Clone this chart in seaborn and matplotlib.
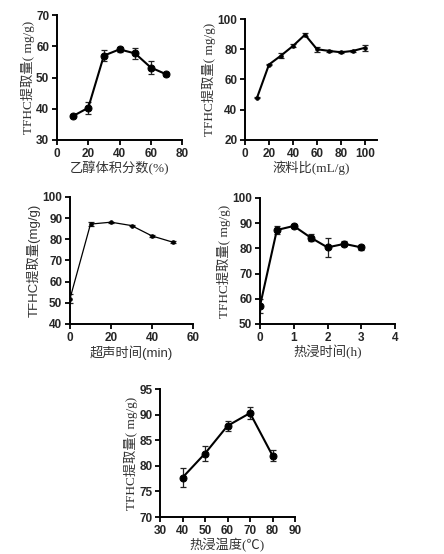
import matplotlib
matplotlib.use("Agg")
import matplotlib.pyplot as plt
import seaborn as sns
import pandas as pd

sns.set_theme(style="ticks")
plt.rcParams['font.family'] = ['Liberation Sans', 'Noto Sans CJK SC', 'DejaVu Sans']

# Panel 1: ethanol volume fraction
eth_x = [10, 20, 30, 40, 50, 60, 70]
eth_y = [37.6, 40.3, 57.0, 59.0, 57.7, 53.2, 51.0]
eth_e = [0.3, 1.9, 1.8, 0.8, 1.8, 2.0, 0.6]

# Panel 2: liquid-solid ratio
ratio_x = [10, 20, 30, 40, 50, 60, 70, 80, 90, 100]
ratio_y = [47.9, 69.9, 75.8, 82.2, 89.6, 80.0, 78.9, 78.0, 78.9, 81.0]
ratio_e = [0.4, 0.5, 1.5, 1.0, 1.0, 1.5, 0.7, 0.7, 0.8, 2.0]

# Panel 3: ultrasonic time
us_x = [0, 10, 20, 30, 40, 50]
us_y = [52.0, 87.2, 88.1, 86.5, 81.6, 78.7]
us_e = [2.0, 1.0, 0.3, 0.3, 0.3, 0.3]

# Panel 4: hot soak time
ht_x = [0, 0.5, 1, 1.5, 2, 2.5, 3]
ht_y = [57.2, 87.3, 88.9, 84.3, 80.4, 81.8, 80.4]
ht_e = [2.8, 1.5, 0.8, 1.5, 3.8, 1.0, 1.0]

# Panel 5: hot soak temperature
tp_x = [40, 50, 60, 70, 80]
tp_y = [77.7, 82.4, 87.8, 90.3, 82.0]
tp_e = [1.9, 1.5, 1.0, 1.2, 1.0]

W, H = 444, 554
fig = plt.figure(figsize=(W / 100, H / 100), dpi=100)

serif = ['Liberation Serif', 'Noto Sans CJK SC']
sans = ['Liberation Sans', 'Noto Sans CJK SC']
txt = '#333333'

def make_ax(x0, y0, x1, y1):
    return fig.add_axes([x0 / W, 1 - y1 / H, (x1 - x0) / W, (y1 - y0) / H])

def panel(ax, x, y, e, xlim, xt, ylim, yt, xlabel, ylabel, fam, ms=5, lw=1.5):
    df = pd.DataFrame({'x': x, 'y': y})
    ax.errorbar(x, y, yerr=e, fmt='none', ecolor='#222222', elinewidth=0.9,
                capsize=2.2, capthick=0.9, zorder=2)
    sns.lineplot(data=df, x='x', y='y', ax=ax, color='black', linewidth=lw,
                 marker='o', markersize=ms, markeredgecolor='black',
                 markerfacecolor='black', zorder=3)
    ax.set_xlim(*xlim)
    ax.set_ylim(*ylim)
    ax.set_xticks(xt)
    ax.set_yticks(yt)
    ax.set_facecolor('white')
    for s in ['top', 'right']:
        ax.spines[s].set_visible(False)
    for s in ['left', 'bottom']:
        ax.spines[s].set_linewidth(1.4)
        ax.spines[s].set_color('black')
    ax.tick_params(axis='both', length=3.5, width=1.3, color='black',
                   labelsize=8.5, pad=2, direction='out')
    for lab in ax.get_xticklabels() + ax.get_yticklabels():
        lab.set_fontweight('bold')
        lab.set_family(sans)
    ax.set_xlabel(xlabel, family=fam, fontsize=9.5, color=txt, labelpad=1)
    ax.set_ylabel(ylabel, family=fam, fontsize=9.5, color=txt, labelpad=1)

ax1 = make_ax(57, 15, 182, 140)
panel(ax1, eth_x, eth_y, eth_e, (0, 80), [0, 20, 40, 60, 80], (30, 70),
      [30, 40, 50, 60, 70], '乙醇体积分数(%)', 'TFHC提取量( mg/g)', serif)

ax2 = make_ax(245, 19, 377, 140)
panel(ax2, ratio_x, ratio_y, ratio_e, (0, 110), [0, 20, 40, 60, 80, 100], (20, 100),
      [20, 40, 60, 80, 100], '液料比(mL/g)', 'TFHC提取量( mg/g)', serif, ms=2.5)

ax3 = make_ax(70, 197, 193, 324)
panel(ax3, us_x, us_y, us_e, (0, 60), [0, 20, 40, 60], (40, 100),
      [40, 50, 60, 70, 80, 90, 100], '超声时间(min)', 'TFHC提取量(mg/g)', sans,
      ms=2.5, lw=0.9)

ax4 = make_ax(260, 198, 395, 324)
panel(ax4, ht_x, ht_y, ht_e, (0, 4), [0, 1, 2, 3, 4], (50, 100),
      [50, 60, 70, 80, 90, 100], '热浸时间(h)', 'TFHC提取量( mg/g)', serif)

ax5 = make_ax(160, 389, 295, 517)
panel(ax5, tp_x, tp_y, tp_e, (30, 90), [30, 40, 50, 60, 70, 80, 90], (70, 95),
      [70, 75, 80, 85, 90, 95], '热浸温度(℃)', 'TFHC提取量( mg/g)', serif)

fig.savefig('out.png', dpi=100, facecolor='white')
